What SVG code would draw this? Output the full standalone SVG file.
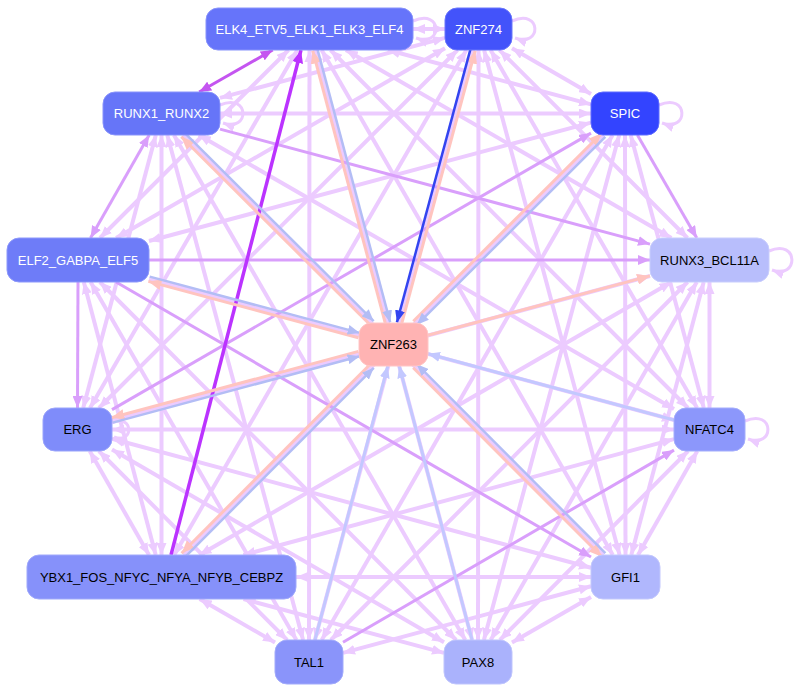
<svg xmlns="http://www.w3.org/2000/svg" width="802" height="692" viewBox="0 0 802 692">
<defs>
<marker id="al" viewBox="0 0 12 10" refX="12" refY="5" markerWidth="12" markerHeight="10" markerUnits="userSpaceOnUse" orient="auto-start-reverse"><path d="M0,0 L12,5 L0,10 z" fill="#eccbff"/></marker>
<marker id="am" viewBox="0 0 12 10" refX="12" refY="5" markerWidth="12" markerHeight="10" markerUnits="userSpaceOnUse" orient="auto-start-reverse"><path d="M0,0 L12,5 L0,10 z" fill="#d99ffb"/></marker>
<marker id="ah" viewBox="0 0 12 10" refX="12" refY="5" markerWidth="12" markerHeight="10" markerUnits="userSpaceOnUse" orient="auto-start-reverse"><path d="M0,0 L12,5 L0,10 z" fill="#c455f0"/></marker>
<marker id="ap" viewBox="0 0 12 10" refX="12" refY="5" markerWidth="13" markerHeight="11" markerUnits="userSpaceOnUse" orient="auto-start-reverse"><path d="M0,0 L12,5 L0,10 z" fill="#bb33ff"/></marker>
<marker id="ab" viewBox="0 0 12 10" refX="12" refY="5" markerWidth="12" markerHeight="10" markerUnits="userSpaceOnUse" orient="auto-start-reverse"><path d="M0,0 L12,5 L0,10 z" fill="#3344f0"/></marker>
<marker id="as" viewBox="0 0 12 10" refX="12" refY="5" markerWidth="13" markerHeight="11" markerUnits="userSpaceOnUse" orient="auto-start-reverse"><path d="M0,0 L12,5 L0,10 z" fill="#ffc4bf"/></marker>
<marker id="ac" viewBox="0 0 12 10" refX="12" refY="5" markerWidth="12" markerHeight="10" markerUnits="userSpaceOnUse" orient="auto-start-reverse"><path d="M0,0 L12,5 L0,10 z" fill="#b3bdf5"/></marker>
<marker id="ad" viewBox="0 0 12 10" refX="12" refY="5" markerWidth="12" markerHeight="10" markerUnits="userSpaceOnUse" orient="auto-start-reverse"><path d="M0,0 L12,5 L0,10 z" fill="#c3c8ff"/></marker>
</defs>
<style>
.e path{fill:none}
.lt path{stroke:#eccbff;stroke-width:4;marker-start:url(#al);marker-end:url(#al)}
.lp path{stroke:#eccbff;stroke-width:3;marker-end:url(#al)}
.md path{stroke:#d99ffb;stroke-width:3;marker-end:url(#am)}
.sa{stroke:#ffc4bf;stroke-width:3;marker-end:url(#as)}
.bl{stroke:#b3bdf5;stroke-width:2.5;marker-end:url(#ac)}
.lb{stroke:#c3c8ff;stroke-width:3;marker-end:url(#ad)}
.n rect{rx:12;ry:12;stroke-width:1}
.n text{font-family:"Liberation Sans",Arial,sans-serif;font-size:13px;text-anchor:middle;dominant-baseline:central}
.w{fill:#ffffff}
.k{fill:#000000}
</style>
<g id="connectors" class="e">
<g class="lt">
<path d="M413,29 L445,29"/>
<path d="M387.9,50 L591,104.4"/>
<path d="M288.5,50 L100,238"/>
<path d="M345.9,50 L671.4,238"/>
<path d="M297.3,50 L90,408"/>
<path d="M330.5,50 L688,408"/>
<path d="M321.6,50 L612.8,555"/>
<path d="M309.5,50 L309,640"/>
<path d="M315.1,50 L472.1,640"/>
<path d="M445,37.9 L220,97.9"/>
<path d="M512,48.3 L591,93.9"/>
<path d="M445,48.3 L116.1,238"/>
<path d="M499.5,50 L687.5,238"/>
<path d="M457.5,50 L99,408"/>
<path d="M490.6,50 L697.1,408"/>
<path d="M466.4,50 L174.2,555"/>
<path d="M484.1,50 L619.6,555"/>
<path d="M472.9,50 L314.9,640"/>
<path d="M478.5,50 L478,640"/>
<path d="M220,113.5 L591,113.5"/>
<path d="M155.8,135 L83.2,408"/>
<path d="M198.8,135 L674,409"/>
<path d="M161.5,135 L161.5,555"/>
<path d="M183,135 L603.5,555"/>
<path d="M167.3,135 L303.1,640"/>
<path d="M173.9,135 L465.3,640"/>
<path d="M591,122.6 L149,241"/>
<path d="M630.7,135 L703.8,408"/>
<path d="M603.5,135 L183.5,555"/>
<path d="M625,135 L625.5,555"/>
<path d="M612.6,135 L321.7,640"/>
<path d="M619.2,135 L483.9,640"/>
<path d="M149,279.1 L674,420"/>
<path d="M83.8,282 L155.7,555"/>
<path d="M90.6,282 L296.4,640"/>
<path d="M99.9,282 L456.1,640"/>
<path d="M650,276 L112,420.2"/>
<path d="M709.5,282 L709.5,408"/>
<path d="M671.5,282 L199.5,555"/>
<path d="M703.7,282 L631.3,555"/>
<path d="M687.6,282 L330.9,640"/>
<path d="M696.8,282 L490.7,640"/>
<path d="M112,429.5 L674,429.5"/>
<path d="M89.7,451 L149,555"/>
<path d="M112,438.8 L591,567.7"/>
<path d="M98.9,451 L287.1,640"/>
<path d="M112,449.5 L444,642.3"/>
<path d="M674,439.1 L243.4,555"/>
<path d="M697.3,451 L638,555"/>
<path d="M688.1,451 L499.9,640"/>
<path d="M296,577 L591,577"/>
<path d="M199.7,599 L275,642.4"/>
<path d="M243.5,599 L444,652.9"/>
<path d="M591,586.3 L343,652.9"/>
<path d="M591,596.9 L512,642.4"/>
</g>
<g class="lp">
<path d="M413,21 C443,8 443,48 416,38"/>
<path d="M512,21 C542,8 542,48 515,38"/>
<path d="M220,105 C250,92 250,133 223,123"/>
<path d="M659,105 C689,92 689,133 662,123"/>
<path d="M769,251 C799,238 799,280 772,270"/>
<path d="M745,421 C775,408 775,449 748,439"/>
<path d="M112,423 C134,413 134,445 114,437"/>
</g>
<g class="md">
<path d="M149.2,135 L90.5,238" style="marker-start:url(#am)"/>
<path d="M220,129.1 L650,244.1"/>
<path d="M637.4,135 L696.8,238"/>
<path d="M112,409.6 L591,133.1"/>
<path d="M149,260 L650,260"/>
<path d="M78,282 L77.5,408"/>
<path d="M116,282 L591,557"/>
<path d="M343,642.3 L674,450.1"/>
</g>
<path d="M272.7,50 L199.2,92" style="stroke:#c455f0;stroke-width:3;marker-start:url(#ah);marker-end:url(#ah)"/>
<path d="M171,555 L301,50" style="stroke:#bb33ff;stroke-width:3.5;marker-end:url(#ap)"/>
<path class="sa" d="M385.4,323.6 L312.7,50.6"/>
<path class="bl" d="M317.5,49.4 L390.2,322.4"/>
<path class="sa" d="M401.7,323.6 L475.2,50.6"/>
<path d="M470.4,49.4 L396.9,322.4" style="stroke:#3344f0;stroke-width:2.5;marker-end:url(#ab)"/>
<path class="sa" d="M370.1,324.8 L181.3,136.8"/>
<path class="bl" d="M184.9,133.2 L373.7,321.2"/>
<path class="sa" d="M413.3,321.2 L601.7,133.2"/>
<path class="bl" d="M605.3,136.8 L416.9,324.8"/>
<path class="sa" d="M358.4,337.7 L148.4,281.4"/>
<path class="bl" d="M149.7,276.6 L359.7,332.9"/>
<path class="sa" d="M358.4,351.4 L111.4,417.8"/>
<path class="bl" d="M112.7,422.6 L359.7,356.2"/>
<path class="sa" d="M370.2,364.2 L181.6,553.2"/>
<path class="bl" d="M185.2,556.8 L373.8,367.8"/>
<path class="sa" d="M413.2,367.8 L601.8,556.8"/>
<path class="bl" d="M605.4,553.2 L416.8,364.2"/>
<path class="sa" d="M428,335.3 L650,275.9"/>
<path class="lb" d="M674,420 L428,353.8"/>
<path class="lb" d="M314.9,640 L387.8,366"/>
<path class="lb" d="M472.1,640 L399.2,366"/>
</g>
<g id="ELK4_ETV5_ELK1_ELK3_ELF4" class="n"><rect x="206" y="8" width="207" height="42" fill="#6674fa" stroke="#8893fb"/><text x="309.5" y="29" class="w">ELK4_ETV5_ELK1_ELK3_ELF4</text></g>
<g id="ZNF274" class="n"><rect x="445" y="8" width="67" height="42" fill="#4353fa" stroke="#6a76fb"/><text x="478.5" y="29" class="w">ZNF274</text></g>
<g id="RUNX1_RUNX2" class="n"><rect x="103" y="92" width="117" height="43" fill="#6675f8" stroke="#8893fb"/><text x="161.5" y="113.5" class="w">RUNX1_RUNX2</text></g>
<g id="SPIC" class="n"><rect x="591" y="92" width="68" height="43" fill="#3344ff" stroke="#5f6cff"/><text x="625" y="113.5" class="w">SPIC</text></g>
<g id="ELF2_GABPA_ELF5" class="n"><rect x="7" y="238" width="142" height="44" fill="#6e7cf8" stroke="#8d98fb"/><text x="78" y="260" class="w">ELF2_GABPA_ELF5</text></g>
<g id="RUNX3_BCL11A" class="n"><rect x="650" y="238" width="119" height="44" fill="#b8befc" stroke="#c8cdfd"/><text x="709.5" y="260" class="k">RUNX3_BCL11A</text></g>
<g id="ZNF263" class="n"><rect x="359" y="323" width="69" height="43" fill="#ffb3b3" stroke="#ffc6c6"/><text x="393.5" y="344.5" class="k">ZNF263</text></g>
<g id="ERG" class="n"><rect x="43" y="408" width="69" height="43" fill="#7f8cfa" stroke="#9aa4fb"/><text x="77.5" y="429.5" class="k">ERG</text></g>
<g id="NFATC4" class="n"><rect x="674" y="408" width="71" height="43" fill="#8c97fb" stroke="#a4adfc"/><text x="709.5" y="429.5" class="k">NFATC4</text></g>
<g id="YBX1_FOS_NFYC_NFYA_NFYB_CEBPZ" class="n"><rect x="27" y="555" width="269" height="44" fill="#8691fa" stroke="#a0a9fb"/><text x="161.5" y="577" class="k">YBX1_FOS_NFYC_NFYA_NFYB_CEBPZ</text></g>
<g id="GFI1" class="n"><rect x="591" y="555" width="69" height="44" fill="#b0b7fd" stroke="#c3c8fd"/><text x="625.5" y="577" class="k">GFI1</text></g>
<g id="TAL1" class="n"><rect x="275" y="640" width="68" height="44" fill="#8a94fa" stroke="#a2abfb"/><text x="309" y="662" class="k">TAL1</text></g>
<g id="PAX8" class="n"><rect x="444" y="640" width="68" height="44" fill="#aab2fc" stroke="#bfc5fd"/><text x="478" y="662" class="k">PAX8</text></g>
</svg>
